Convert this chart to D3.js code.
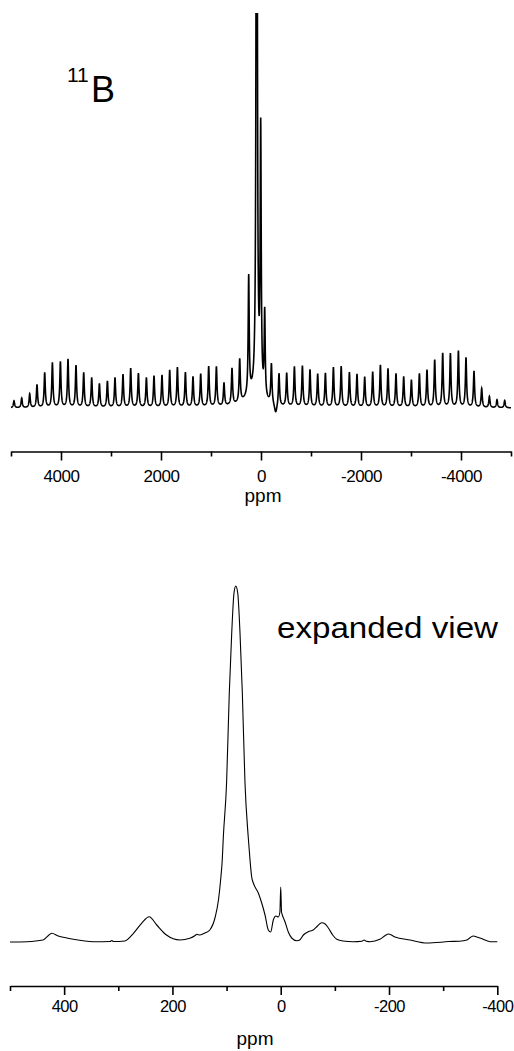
<!DOCTYPE html>
<html lang="en">
  <head>
    <meta charset="utf-8" />
    <title>11B NMR spectrum</title>
    <script type="text/javascript" src="https://cdn.jsdelivr.net/npm/d3@7"></script>
    <style type="text/css">
      body { margin: 0; background: #fff; }
      svg text { font-family: "Liberation Sans", Arial, sans-serif; fill: #000; }
      .axis path, .axis line { stroke: #000; stroke-width: 1.6; }
    </style>
  </head>

  <body>
    <script type="text/javascript">
      // ---- full spectrum: spinning sidebands (ppm, height above baseline) ----
      const sbPpm = [4940, 4786, 4626, 4480, 4326, 4172, 4012, 3860, 3700, 3546,
        3386, 3232, 3072, 2920, 2760, 2606, 2452, 2292, 2140, 1980,
        1826, 1672, 1512, 1360, 1206, 1046, 892, 740, 580, 426,
        -208, -360, -514, -668, -828, -980, -1134, -1288, -1448, -1604,
        -1768, -1920, -2074, -2234, -2388, -2540, -2700, -2854, -3008, -3168,
        -3320, -3474, -3634, -3788, -3948, -4100, -4260, -4414, -4568, -4720, -4874];
      const sbHeight = [7, 9.7, 13.7, 23, 34.7, 44.7, 45.7, 48, 42, 34.7,
        29.7, 23.7, 26.3, 29.7, 33, 39, 34, 29.7, 31.3, 32,
        37, 39.7, 34.7, 30.3, 33, 40.3, 39.7, 23, 36.3, 43,
        39.7, 33, 33, 39.7, 40.7, 37.3, 33, 34, 39.7, 40.7,
        34.7, 33, 30.3, 35.3, 42, 38.7, 33.7, 30.7, 27.3, 33.7,
        37.3, 47.3, 54, 53.7, 56.3, 49.7, 36.3, 19, 11.3, 8, 7.3];
      const sbWidth = 14; // half width, ppm

      // centre band region
      const centrePpm = [246, 86, 6, -74, -294, 160];
      const centreHeight = [118, 1200, 262, 85, -10, 12];
      const centreWidth = [12, 10, 12, 12, 30, 200];

      const topTicks = [4000, 2000, 0, -2000, -4000];
      const topMinor = [5000, 3000, 1000, -1000, -3000, -5000];

      // ---- expanded view (ppm, intensity) ----
      const expPpm = [500, 469, 439, 430, 423, 411, 395, 383, 346, 315, 312, 309,
        288, 272, 257, 243, 229, 211, 186, 168, 158, 155, 149, 140, 131, 121,
        115, 111, 108, 106, 100, 95, 90.5, 86.3, 83, 79.4, 75.2, 70.9, 66, 60,
        56.7, 53.6, 50.6, 41.4, 35.1, 29, 22.9, 18.5, 13.7, 8.7, 4.4, 1.5, 0,
        -1.5, -3, -8, -14, -20.3, -29.6, -35, -41.8, -51, -60, -68, -75.7, -82,
        -88, -96, -103.5, -115, -134, -150, -154, -158, -165, -183, -193, -199,
        -206, -211, -239, -270, -300, -310, -330, -344, -350, -356, -362, -368,
        -387, -400];
      const expInt = [0, 0.3, 2, 6, 8.7, 6, 4, 2.7, 0.3, 0.5, 1.5, 0.5,
        1, 8.7, 18.7, 25.3, 17, 7, 2, 3.7, 6.5, 7.7, 7, 9, 12, 25,
        42, 62, 82, 105, 159, 249, 309, 349, 356, 349, 309, 249, 159, 105,
        82, 65, 59, 49, 39, 27, 12, 10, 22, 26, 25, 30, 55,
        30, 27, 20, 10, 4, 1.3, 2, 7, 10.3, 12, 16, 19.3, 18,
        14, 7, 2.7, 1, 0.3, 0.8, 2, 0.8, 0.3, 2.7, 6.5, 8,
        6.5, 5, 2, -1, 0, 0.5, 0.8, 2, 4.5, 6, 5, 4,
        0.3, 0.3];

      const botTicks = [400, 200, 0, -200, -400];
      const botMinor = [500, 300, 100, -100, -300];

      const svg = d3.select("body").append("svg")
        .attr("width", 514).attr("height", 1051);

      svg.append("defs").append("clipPath").attr("id", "topclip")
        .append("rect").attr("x", 0).attr("y", 13).attr("width", 514).attr("height", 440);

      // ---------- top panel ----------
      const xTop = d3.scaleLinear().domain([5000, -5000]).range([11, 511]);
      const yTop = d3.scaleLinear().domain([0, 395]).range([408, 13]);

      function lorentz(p, c, h, w) {
        const d = (p - c) / w;
        return h / (1 + d * d);
      }

      const topData = d3.range(5000, -5001, -2).map(function (p) {
        let v = 0;
        sbPpm.forEach(function (c, i) { v += lorentz(p, c, sbHeight[i], sbWidth); });
        centrePpm.forEach(function (c, i) { v += lorentz(p, c, centreHeight[i], centreWidth[i]); });
        return [p, v];
      });

      svg.append("path")
        .datum(topData)
        .attr("clip-path", "url(#topclip)")
        .attr("fill", "none")
        .attr("stroke", "#000")
        .attr("stroke-width", 1.6)
        .attr("d", d3.line().x(d => xTop(d[0])).y(d => yTop(d[1])));

      const topAxis = svg.append("g").attr("class", "axis")
        .attr("transform", "translate(0,451.5)");
      topAxis.call(d3.axisBottom(xTop).tickValues(topTicks).tickSize(9)
        .tickSizeOuter(0).tickFormat(d => String(d)));
      topAxis.append("g").call(d3.axisBottom(xTop).tickValues(topMinor).tickSize(5)
        .tickFormat("")).select(".domain").remove();
      topAxis.selectAll(".tick text").attr("y", 30).attr("dy", 0)
        .style("font-size", "17px").style("letter-spacing", "-0.5px");

      svg.append("text").attr("x", 263).attr("y", 501.5)
        .attr("text-anchor", "middle").style("font-size", "19px").text("ppm");

      const lbl = svg.append("text");
      lbl.append("tspan").attr("x", 67).attr("y", 81.7).style("font-size", "21px").text("11");
      lbl.append("tspan").attr("x", 91).attr("y", 101.5).style("font-size", "36px").text("B");

      // ---------- bottom panel ----------
      const xBot = d3.scaleLinear().domain([500, -400]).range([10, 497.3]);
      const yBot = d3.scaleLinear().domain([0, 356]).range([942, 586]);

      svg.append("path")
        .datum(d3.zip(expPpm, expInt))
        .attr("fill", "none")
        .attr("stroke", "#000")
        .attr("stroke-width", 1.1)
        .attr("d", d3.line().curve(d3.curveMonotoneX)
          .x(d => xBot(d[0])).y(d => yBot(d[1])));

      const botAxis = svg.append("g").attr("class", "axis")
        .attr("transform", "translate(0,986)");
      botAxis.call(d3.axisBottom(xBot).tickValues(botTicks).tickSize(9)
        .tickSizeOuter(0).tickFormat(d => String(d)));
      botAxis.append("g").call(d3.axisBottom(xBot).tickValues(botMinor).tickSize(5)
        .tickFormat("")).select(".domain").remove();
      botAxis.selectAll(".tick text").attr("y", 25.7).attr("dy", 0)
        .style("font-size", "16.5px").style("letter-spacing", "-0.5px");

      svg.append("text").attr("x", 255).attr("y", 1045)
        .attr("text-anchor", "middle").style("font-size", "19px").text("ppm");

      svg.append("text").attr("x", 277).attr("y", 638)
        .attr("textLength", 221).attr("lengthAdjust", "spacingAndGlyphs")
        .style("font-size", "29px").text("expanded view");
    </script>
  </body>
</html>
